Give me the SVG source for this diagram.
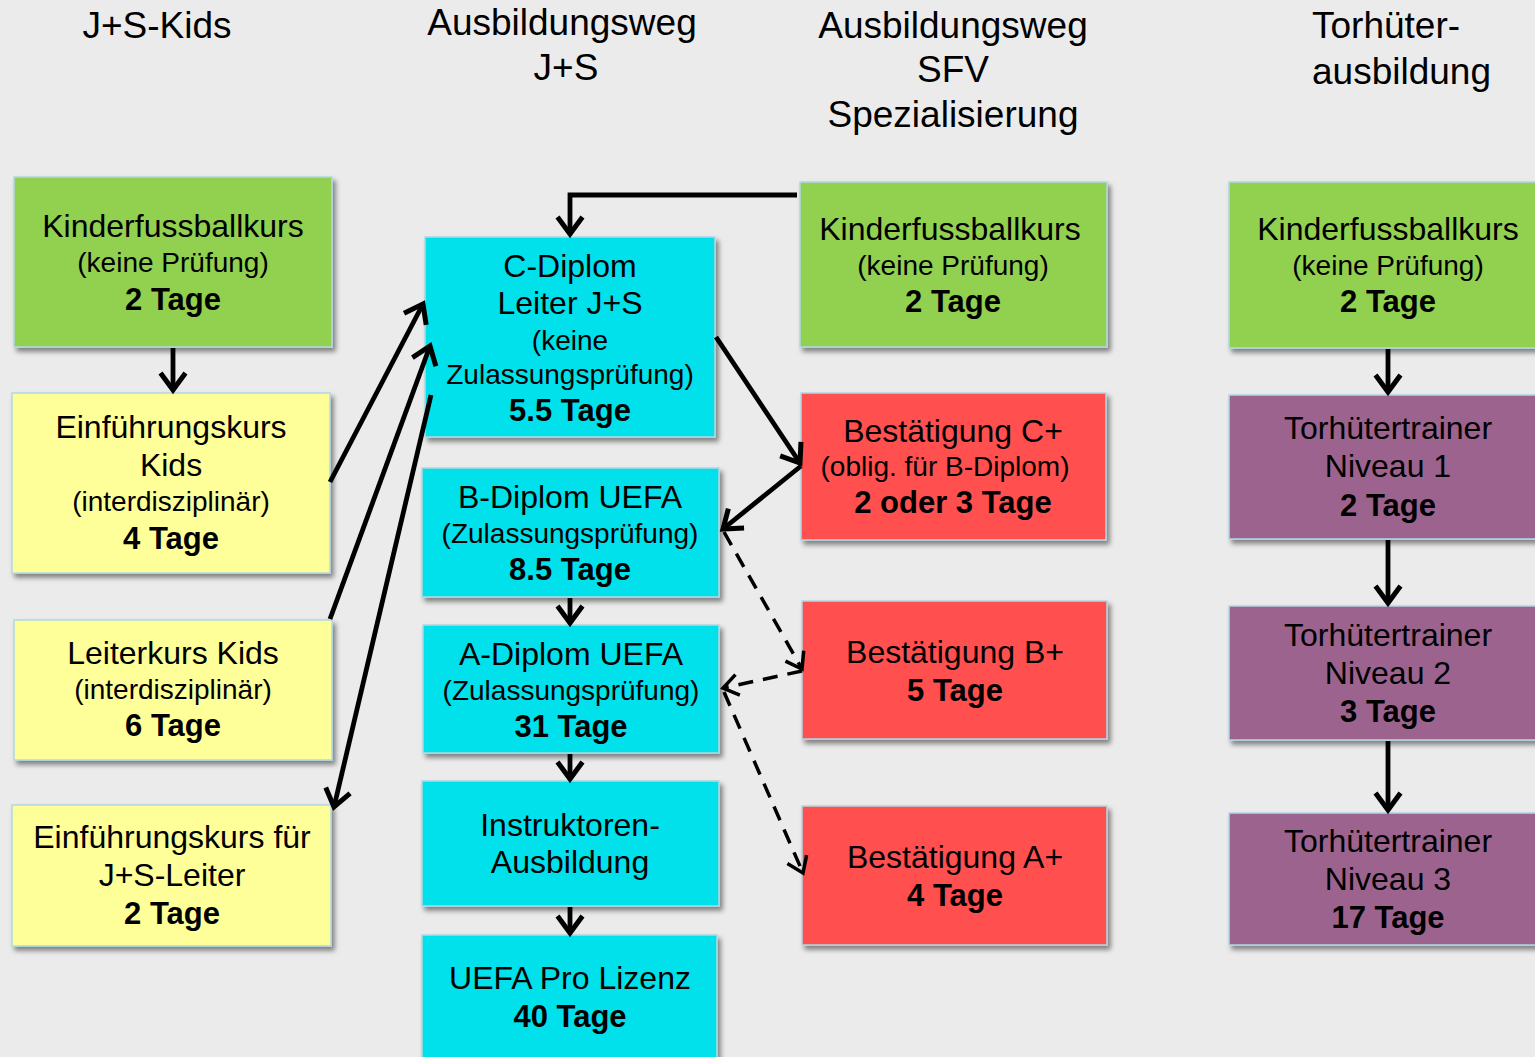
<svg xmlns="http://www.w3.org/2000/svg" width="1535" height="1057" viewBox="0 0 1535 1057">
<defs>
<filter id="sh" x="-10%" y="-10%" width="130%" height="130%">
<feDropShadow dx="3" dy="4" stdDeviation="2.5" flood-color="#000" flood-opacity="0.45"/>
</filter>
<marker id="ah" markerUnits="userSpaceOnUse" markerWidth="30" markerHeight="30" viewBox="-20 -15 25 30" refX="0" refY="0" orient="auto" overflow="visible">
<path d="M-17,-12.5 L0,0 L-17,12.5" fill="none" stroke="#000" stroke-width="5" stroke-linecap="butt" stroke-linejoin="miter"/>
</marker>
<marker id="ahd" markerUnits="userSpaceOnUse" markerWidth="30" markerHeight="30" viewBox="-20 -15 25 30" refX="0" refY="0" orient="auto" overflow="visible">
<path d="M-15,-10.5 L0,0 L-15,10.5" fill="none" stroke="#000" stroke-width="3.5" stroke-dasharray="none"/>
</marker>
</defs>
<style>
text{font-family:"Liberation Sans",Arial,sans-serif;fill:#000;text-anchor:middle}
.t{font-size:37px}
.m{font-size:32px}
.s{font-size:28px}
.b{font-size:31px;font-weight:bold}
.box{stroke:#b0d8e4;stroke-width:1.5;filter:url(#sh)}
.g{fill:#92d050}
.y{fill:#ffff99}
.c{fill:#00e1eb}
.r{fill:#ff5050}
.p{fill:#9c638f}
.ln{fill:none;stroke:#000;stroke-width:4.8;marker-end:url(#ah)}
.dl{fill:none;stroke:#000;stroke-width:3.5;stroke-dasharray:15 10;marker-end:url(#ahd)}
</style>
<rect width="1535" height="1057" fill="#ebebeb"/>

<g id="titles">
<text class="t" x="157" y="38">J+S-Kids</text>
<text class="t" x="562" y="35">Ausbildungsweg</text>
<text class="t" x="566" y="80">J+S</text>
<text class="t" x="953" y="38">Ausbildungsweg</text>
<text class="t" x="953" y="82">SFV</text>
<text class="t" x="953" y="127">Spezialisierung</text>
<text class="t" x="1312" y="38" style="text-anchor:start">Torhüter-</text>
<text class="t" x="1312" y="84" style="text-anchor:start">ausbildung</text>
</g>

<g id="n-kids-kfk">
<rect class="box g" x="14" y="177" width="318" height="170"/>
<text class="m" x="173" y="237">Kinderfussballkurs</text>
<text class="s" x="173" y="272">(keine Prüfung)</text>
<text class="b" x="173" y="310">2 Tage</text>
</g>
<g id="n-kids-ek">
<rect class="box y" x="12" y="393" width="318" height="180"/>
<text class="m" x="171" y="438">Einführungskurs</text>
<text class="m" x="171" y="476">Kids</text>
<text class="s" x="171" y="511">(interdisziplinär)</text>
<text class="b" x="171" y="549">4 Tage</text>
</g>
<g id="n-kids-lk">
<rect class="box y" x="14" y="620" width="318" height="140"/>
<text class="m" x="173" y="664">Leiterkurs Kids</text>
<text class="s" x="173" y="699">(interdisziplinär)</text>
<text class="b" x="173" y="736">6 Tage</text>
</g>
<g id="n-kids-ekjs">
<rect class="box y" x="12" y="805" width="319" height="141"/>
<text class="m" x="172" y="848">Einführungskurs für</text>
<text class="m" x="172" y="886">J+S-Leiter</text>
<text class="b" x="172" y="924">2 Tage</text>
</g>

<g id="n-c">
<rect class="box c" x="425" y="237" width="290" height="200"/>
<text class="m" x="570" y="277">C-Diplom</text>
<text class="m" x="570" y="314">Leiter J+S</text>
<text class="s" x="570" y="350">(keine</text>
<text class="s" x="570" y="384">Zulassungsprüfung)</text>
<text class="b" x="570" y="421">5.5 Tage</text>
</g>
<g id="n-b">
<rect class="box c" x="422" y="468" width="297" height="129"/>
<text class="m" x="570" y="508">B-Diplom UEFA</text>
<text class="s" x="570" y="543">(Zulassungsprüfung)</text>
<text class="b" x="570" y="580">8.5 Tage</text>
</g>
<g id="n-a">
<rect class="box c" x="423" y="625" width="296" height="128"/>
<text class="m" x="571" y="665">A-Diplom UEFA</text>
<text class="s" x="571" y="700">(Zulassungsprüfung)</text>
<text class="b" x="571" y="737">31 Tage</text>
</g>
<g id="n-instr">
<rect class="box c" x="422" y="781" width="297" height="125"/>
<text class="m" x="570" y="836">Instruktoren-</text>
<text class="m" x="570" y="873">Ausbildung</text>
</g>
<g id="n-pro">
<rect class="box c" x="422" y="935" width="295" height="130"/>
<text class="m" x="570" y="989">UEFA Pro Lizenz</text>
<text class="b" x="570" y="1027">40 Tage</text>
</g>

<g id="n-sfv-kfk">
<rect class="box g" x="800" y="182" width="307" height="165"/>
<text class="m" x="950" y="240">Kinderfussballkurs</text>
<text class="s" x="953" y="275">(keine Prüfung)</text>
<text class="b" x="953" y="312">2 Tage</text>
</g>
<g id="n-cplus">
<rect class="box r" x="801" y="393" width="305" height="147"/>
<text class="m" x="953" y="442">Bestätigung C+</text>
<text class="s" x="945" y="476">(oblig. für B-Diplom)</text>
<text class="b" x="953" y="513">2 oder 3 Tage</text>
</g>
<g id="n-bplus">
<rect class="box r" x="802" y="601" width="305" height="138"/>
<text class="m" x="955" y="663">Bestätigung B+</text>
<text class="b" x="955" y="701">5 Tage</text>
</g>
<g id="n-aplus">
<rect class="box r" x="802" y="806" width="305" height="139"/>
<text class="m" x="955" y="868">Bestätigung A+</text>
<text class="b" x="955" y="906">4 Tage</text>
</g>

<g id="n-th-kfk">
<rect class="box g" x="1229" y="182" width="320" height="166"/>
<text class="m" x="1388" y="240">Kinderfussballkurs</text>
<text class="s" x="1388" y="275">(keine Prüfung)</text>
<text class="b" x="1388" y="312">2 Tage</text>
</g>
<g id="n-th1">
<rect class="box p" x="1229" y="395" width="320" height="144"/>
<text class="m" x="1388" y="439">Torhütertrainer</text>
<text class="m" x="1388" y="477">Niveau 1</text>
<text class="b" x="1388" y="516">2 Tage</text>
</g>
<g id="n-th2">
<rect class="box p" x="1229" y="606" width="320" height="134"/>
<text class="m" x="1388" y="646">Torhütertrainer</text>
<text class="m" x="1388" y="684">Niveau 2</text>
<text class="b" x="1388" y="722">3 Tage</text>
</g>
<g id="n-th3">
<rect class="box p" x="1229" y="813" width="320" height="132"/>
<text class="m" x="1388" y="852">Torhütertrainer</text>
<text class="m" x="1388" y="890">Niveau 3</text>
<text class="b" x="1388" y="928">17 Tage</text>
</g>

<g id="connectors">
<path class="ln" d="M173,348 L173,390"/>
<path class="ln" d="M330,482 L423,304"/>
<path class="ln" d="M330,619 L430,346"/>
<path class="ln" d="M431,395 L334,807"/>
<path class="ln" d="M797,195 L570,195 L570,234"/>
<path class="ln" d="M716,337 L800,463"/>
<path class="ln" d="M801,466 L723,529"/>
<path class="ln" d="M570,598 L570,623"/>
<path class="ln" d="M570,754 L570,779"/>
<path class="ln" d="M570,907 L570,933"/>
<path class="ln" d="M1388,349 L1388,392"/>
<path class="ln" d="M1388,540 L1388,603"/>
<path class="ln" d="M1388,741 L1388,810"/>
<path class="dl" d="M724,532 L802,669"/>
<path class="dl" d="M802,671 L723,688"/>
<path class="dl" d="M724,692 L803,873"/>
</g>
</svg>
